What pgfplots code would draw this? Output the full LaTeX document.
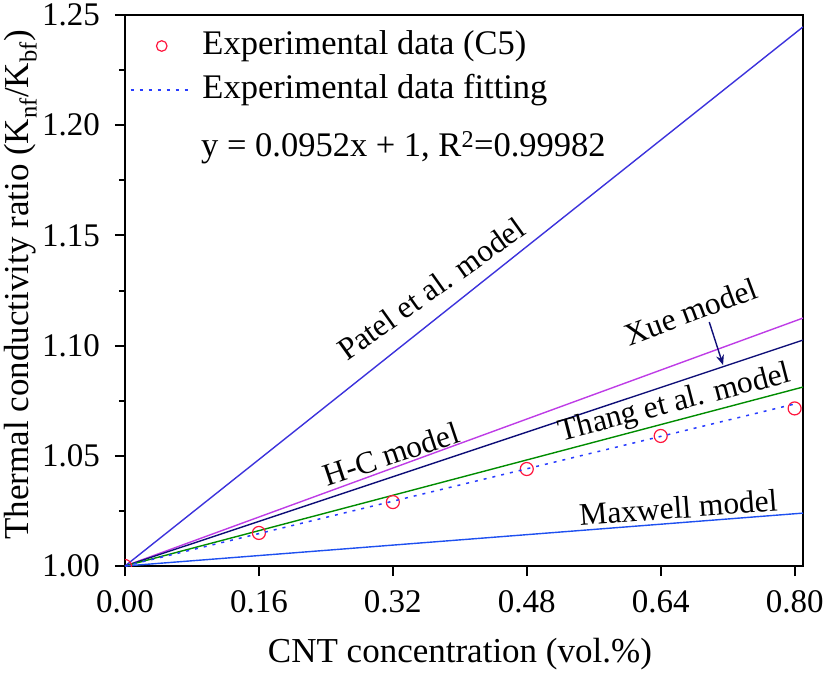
\documentclass[border=0pt]{standalone}
\usepackage{fontspec}
\setmainfont{Liberation Serif}
\usepackage{pgfplots}
\pgfplotsset{compat=1.18}
\usetikzlibrary{arrows.meta}
\definecolor{patelc}{RGB}{60,50,220}
\definecolor{hcc}{RGB}{190,60,230}
\definecolor{xuec}{RGB}{15,15,120}
\definecolor{thangc}{RGB}{0,140,0}
\definecolor{maxc}{RGB}{30,80,240}
\definecolor{fitc}{RGB}{40,60,255}
\definecolor{datac}{RGB}{255,20,60}
\newcommand{\labf}{\fontsize{35}{42}\selectfont}
\newcommand{\legf}{\fontsize{34.5}{42}\selectfont}
\newcommand{\tickf}{\fontsize{33}{40}\selectfont}
\newcommand{\annf}{\fontsize{31.5}{38}\selectfont}
\pgfplotsset{
  marklegend/.style={legend image code/.code={\draw[##1, mark size=5.3pt] plot[only marks] coordinates {(31pt,0pt)};}},
  linelegend/.style={legend image code/.code={\draw[##1] (0pt,0pt) -- (58pt,0pt);}},
}
\begin{document}
\begin{tikzpicture}
\begin{axis}[
  at={(0,0)}, anchor=south west,
  scale only axis, width=678pt, height=551pt,
  xmin=0, xmax=0.81, ymin=1, ymax=1.25,
  clip marker paths=true,
  axis line style={line width=2.6pt},
  xtick={0,0.16,0.32,0.48,0.64,0.80},
  xticklabels={0.00,0.16,0.32,0.48,0.64,0.80},
  ytick={1,1.05,1.10,1.15,1.20,1.25},
  yticklabels={1.00,1.05,1.10,1.15,1.20,1.25},
  minor ytick={1.025,1.075,1.125,1.175,1.225},
  tick align=outside, tick pos=left,
  major tick length=10pt, minor tick length=6pt,
  every tick/.style={line width=2pt, black},
  tick label style={font=\tickf},
  xticklabel style={inner sep=0pt, anchor=north, yshift=-14pt},
  yticklabel style={inner sep=0pt, anchor=east, xshift=-15pt},
  /pgf/number format/assume math mode=true,
  xlabel={CNT concentration (vol.\%)},
  ylabel={Thermal conductivity ratio (K\textsubscript{nf}/K\textsubscript{bf})},
  every axis x label/.style={at={(axis description cs:0.494,-0.176)}, anchor=base, inner sep=0pt, font=\labf},
  every axis y label/.style={at={(axis description cs:-0.143,0.51)}, anchor=base, inner sep=0pt, rotate=90, font=\labf},
  legend style={at={(axis description cs:0,1)}, anchor=north west, xshift=5pt, yshift=-15pt,
    draw=none, fill=none, font=\legf, inner xsep=0pt, inner ysep=0pt, outer sep=0pt,
    row sep=12pt,
    nodes={inner sep=0pt, text height=24pt, text depth=8pt},
    /tikz/every odd column/.append style={column sep=13pt}},
  legend cell align=left,
]
% models
\addplot[patelc, line width=1.4pt, forget plot] coordinates {(0,1) (0.81,1.2446)};
\addplot[hcc, line width=1.4pt, forget plot] coordinates {(0,1) (0.81,1.1125)};
\addplot[xuec, line width=1.4pt, forget plot] coordinates {(0,1) (0.81,1.1025)};
\addplot[thangc, line width=1.4pt, forget plot] coordinates {(0,1) (0.81,1.0812)};
\addplot[maxc, line width=1.4pt, forget plot] coordinates {(0,1) (0.81,1.0240)};
% data
\addplot[only marks, mark=o, datac, mark size=6.5pt, mark options={line width=1.2pt}, marklegend]
  coordinates {(0,1.000) (0.16,1.015) (0.32,1.029) (0.48,1.044) (0.64,1.059) (0.80,1.0715)};
\addlegendentry{Experimental data (C5)}
\addplot[fitc, line width=1.5pt, dash pattern=on 3pt off 6pt, linelegend]
  coordinates {(0,1) (0.80,1.0735)};
\addlegendentry{Experimental data fitting}
% labels
\node[font=\legf, anchor=base west, inner sep=0pt] at (axis cs:0.0908,1.1856) {y = 0.0952x + 1, R\textsuperscript{2}=0.99982};
\node[font=\annf, rotate=35.5] at (axis cs:0.3656,1.1257) {Patel et al. model};
\node[font=\annf, rotate=18.5] at (axis cs:0.318,1.0508) {H-C model};
\node[font=\annf, rotate=20.5] at (axis cs:0.6756,1.1154) {Xue model};
\node[font=\annf, rotate=14.5] at (axis cs:0.657,1.0735) {Thang et al. model};
\node[font=\annf, rotate=4.3] at (axis cs:0.661,1.0265) {Maxwell model};
\draw[-{Stealth[length=10pt,width=8pt]}, xuec, line width=1.4pt] (axis cs:0.698,1.1107) -- (axis cs:0.7145,1.0912);
\end{axis}
\pgfresetboundingbox
\path (-125pt,-107pt) rectangle (702pt,566pt);
\end{tikzpicture}
\end{document}
